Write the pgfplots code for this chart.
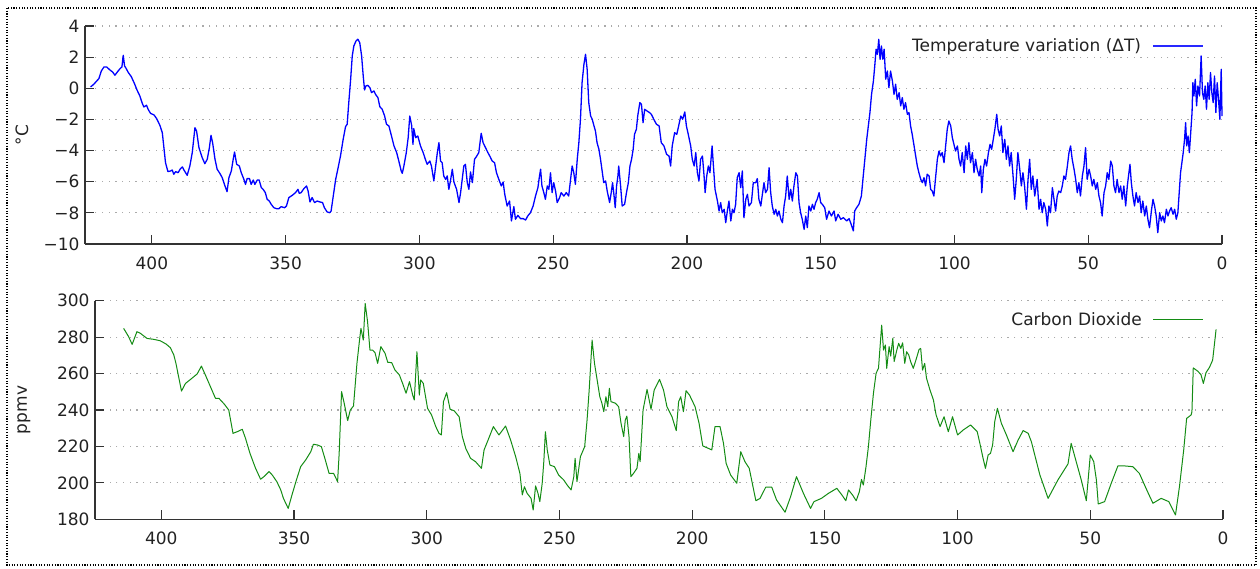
\documentclass[border=0pt]{standalone}
\usepackage{fontspec}
\setmainfont{DejaVu Sans}
\usepackage{pgfplots}
\pgfplotsset{compat=1.18}
\definecolor{txt}{HTML}{222222}
\definecolor{axl}{HTML}{333333}
\definecolor{grd}{HTML}{AAAAAA}
\definecolor{co2}{RGB}{20,140,20}
\definecolor{legblue}{RGB}{40,40,255}
\pgfplotsset{
  vostok/.style={
    scale only axis,
    x dir=reverse, xmin=0, xmax=425,
    axis x line*=bottom, axis y line*=left,
    axis line style={axl, line width=1.6pt},
    tick align=inside,
    major tick length=9pt,
    tick style={axl, line width=1.2pt},
    xtick={0,50,100,150,200,250,300,350,400},
    ymajorgrids,
    major grid style={grd, line width=1.2pt, dash pattern=on 1.2pt off 5.5pt},
    /pgf/number format/assume math mode=true,
    tick label style={font=\fontsize{17}{19}\selectfont, text=txt},
    xticklabel style={yshift=-9pt},
    yticklabel style={xshift=-2pt},
    legend style={draw=none, fill=none, font=\fontsize{17}{19}\selectfont,
      /tikz/every odd column/.style={column sep=9pt}},
    legend cell align=right,
    legend plot pos=right,
    clip=false,
  }
}
\begin{document}
\begin{tikzpicture}
\useasboundingbox (0pt,0pt) rectangle (1260pt,-568pt);
\draw[black, line width=1.1pt, dash pattern=on 1.1pt off 1.6pt] (7pt,-8pt) rectangle (1256pt,-565pt);
% ---------------- temperature ----------------
\begin{axis}[vostok,
  at={(85pt,-244pt)}, anchor=south west,
  width=1137pt, height=218pt,
  ymin=-10, ymax=4,
  ytick={-10,-8,-6,-4,-2,0,2,4},
  yticklabels={−10,−8,−6,−4,−2,0,2,4},
  ylabel={°C},
  every axis y label/.style={at={(rel axis cs:0,0.5)}, xshift=-63pt, rotate=90, anchor=center, font=\fontsize{17}{19}\selectfont, text=txt},
  legend style={at={(rel axis cs:0.9868,0.962)}, anchor=north east},
  legend image code/.code={\draw[#1, legblue, line width=1.7pt] (0pt,0pt) -- (50pt,0pt);},
]
\addplot[blue, line width=1.3pt, line join=round] coordinates {
(422.9,0.09)(421.7,0.26)(420.4,0.51)(419.8,0.62)(418.9,1.11)(417.9,1.37)(416.9,1.37)(415.7,1.18)(414.7,1.05)(413.8,0.84)(412.9,1.05)(411.9,1.26)(411.2,1.37)(410.7,2.12)(410.2,1.43)(409.8,1.33)(408.8,1.01)(407.7,0.75)(406.5,0.30)(405.5,-0.13)(404.5,-0.49)(403.6,-0.96)(403.0,-1.20)(402.0,-1.09)(401.4,-1.35)(400.5,-1.61)(399.2,-1.71)(398.2,-1.95)(397.0,-2.38)(396.1,-2.85)(395.5,-3.81)(394.9,-4.78)(394.0,-5.35)(393.0,-5.31)(392.4,-5.25)(391.8,-5.52)(391.1,-5.35)(390.2,-5.42)(389.3,-5.16)(388.6,-5.05)(388.0,-5.25)(386.8,-5.59)(385.8,-4.99)(384.9,-4.13)(383.9,-2.53)(383.3,-2.74)(382.4,-3.81)(381.2,-4.45)(380.2,-4.84)(379.3,-4.56)(378.5,-3.81)(377.9,-3.02)(377.3,-3.49)(376.4,-4.56)(375.6,-5.20)(374.6,-5.46)(373.7,-5.74)(372.8,-6.21)(371.9,-6.64)(371.2,-5.74)(370.3,-5.31)(369.6,-4.56)(369.1,-4.09)(368.3,-4.88)(367.3,-4.99)(366.6,-5.42)(365.6,-5.85)(365.0,-6.17)(364.4,-5.80)(363.5,-5.80)(362.9,-6.17)(362.1,-5.89)(361.5,-6.17)(360.6,-5.89)(359.9,-5.89)(359.1,-6.38)(358.4,-6.49)(357.6,-6.70)(356.9,-7.13)(356.1,-7.24)(355.4,-7.45)(354.4,-7.67)
(353.4,-7.73)(352.5,-7.73)(351.7,-7.60)(350.4,-7.67)(349.7,-7.56)(348.8,-7.02)(347.5,-6.87)(346.3,-6.70)(345.4,-6.49)(344.9,-6.75)(344.2,-6.70)(343.2,-6.45)(342.2,-6.27)(341.6,-6.60)(340.9,-7.30)(340.1,-7.02)(339.2,-7.34)(338.2,-7.24)(337.2,-7.30)(336.2,-7.34)(335.5,-7.67)(334.5,-7.94)(333.5,-7.99)(333.0,-7.88)(332.2,-6.92)(331.3,-5.85)(330.5,-5.20)(329.5,-4.35)(328.5,-3.28)(327.6,-2.46)(327.0,-2.31)(326.4,-0.92)(325.7,0.58)(325.1,2.08)(324.5,2.72)(323.7,3.04)(323.0,3.15)(322.3,2.93)(321.6,2.08)(321.0,0.79)(320.5,-0.11)(320.0,0.15)(319.3,0.19)(318.5,0.04)(317.9,-0.28)(317.0,-0.17)(316.4,-0.39)(315.5,-0.60)(314.8,-1.18)(313.9,-1.35)(313.0,-1.78)(312.3,-2.31)(311.4,-2.42)(310.5,-3.02)(309.5,-3.70)(308.5,-4.13)(307.7,-4.67)(306.8,-5.31)(306.4,-5.46)(305.8,-4.99)(304.9,-4.13)(304.2,-3.17)(303.6,-1.78)(302.9,-2.38)(302.4,-3.60)(302.1,-2.59)(301.4,-3.17)(300.6,-3.06)(299.6,-3.70)(298.6,-4.13)(297.7,-4.60)(297.1,-4.88)(296.1,-4.67)(295.5,-4.99)(294.6,-5.95)(294.0,-5.10)(293.3,-4.13)(292.7,-3.49)(292.1,-4.67)(291.5,-4.78)(290.9,-5.63)(290.2,-5.85)(289.6,-5.63)(289.0,-6.49)(288.4,-5.95)(287.7,-5.20)(287.1,-6.02)(286.1,-6.49)(285.2,-7.34)(284.6,-6.70)(284.0,-5.85)(283.4,-4.99)(282.8,-4.88)(282.1,-6.06)
(281.5,-6.49)(280.9,-5.37)(280.2,-6.06)(279.4,-4.56)(278.7,-4.39)(277.8,-4.13)(276.9,-2.89)(276.2,-3.49)(275.3,-3.81)(274.4,-4.13)(273.7,-4.35)(272.8,-4.67)(271.9,-4.78)(271.2,-5.42)(270.3,-5.85)(269.4,-6.27)(268.7,-6.02)(268.1,-6.81)(267.2,-7.56)(266.3,-7.24)(265.6,-8.52)(264.7,-7.60)(264.1,-8.41)(263.2,-8.16)(262.2,-8.37)(261.2,-8.37)(260.3,-8.46)(259.5,-8.20)(258.5,-7.99)(257.5,-7.56)(256.6,-6.92)(255.7,-6.38)(255.2,-5.74)(254.7,-5.20)(254.2,-6.27)(253.5,-6.70)(252.9,-7.13)(252.2,-6.27)(251.6,-6.49)(251.0,-5.42)(250.4,-6.70)(249.8,-6.06)(249.1,-6.60)(248.5,-7.34)(247.6,-7.02)(247.0,-6.70)(246.0,-6.92)(245.1,-6.70)(244.2,-6.92)(243.5,-5.85)(242.9,-4.99)(242.3,-5.42)(241.7,-6.17)(241.0,-4.56)(240.4,-3.49)(239.8,-1.99)(239.2,0.36)(238.5,1.54)(237.9,2.18)(237.3,1.22)(236.7,-0.92)(236.0,-1.78)(235.4,-1.99)(234.8,-2.38)(234.2,-2.74)(233.6,-3.49)(232.9,-3.92)(232.3,-4.56)(231.7,-5.31)(231.1,-6.06)(230.4,-5.95)(229.8,-6.60)(228.9,-7.34)(228.3,-6.70)(227.8,-6.06)(227.3,-6.81)(226.8,-7.67)(226.3,-6.27)(225.8,-5.63)(225.5,-4.99)(224.8,-6.27)(224.2,-7.56)(223.3,-7.45)(222.6,-6.70)(221.9,-6.06)(221.3,-4.99)(220.7,-4.56)(220.1,-3.92)(219.6,-2.96)(218.9,-2.63)(218.4,-1.78)(217.6,-0.92)(217.0,-1.03)(216.4,-2.21)(215.8,-1.35)(214.9,-1.46)(214.0,-1.56)(213.3,-1.67)(212.4,-1.99)(211.4,-2.31)
(210.4,-2.42)(209.6,-3.49)(208.6,-3.70)(207.6,-4.24)(206.7,-4.35)(206.1,-4.99)(205.5,-3.70)(204.6,-2.85)(203.8,-2.96)(203.1,-2.42)(202.3,-1.78)(201.6,-1.99)(200.8,-1.52)(200.2,-2.42)(199.5,-2.96)(198.6,-3.70)(198.0,-4.56)(197.3,-4.99)(196.7,-4.13)(196.1,-5.42)(195.5,-5.95)(194.9,-4.56)(194.2,-4.35)(193.6,-5.63)(193.2,-6.70)(192.6,-5.63)(192.0,-4.99)(191.4,-5.42)(190.6,-3.70)(190.1,-4.99)(189.5,-6.49)(188.6,-7.24)(188.0,-7.88)(187.4,-7.34)(186.8,-7.99)(186.1,-7.77)(185.5,-8.63)(184.9,-7.88)(184.3,-7.24)(183.6,-8.52)(183.0,-7.77)(182.4,-7.99)(181.8,-7.45)(181.2,-5.74)(180.5,-5.42)(179.9,-6.38)(179.3,-5.31)(178.7,-8.31)(178.0,-7.13)(177.4,-6.81)(176.8,-7.56)(175.9,-7.34)(175.2,-6.06)(174.3,-6.06)(173.7,-5.80)(173.1,-7.13)(172.4,-7.56)(171.8,-6.81)(171.2,-6.06)(170.6,-6.70)(169.9,-6.49)(169.3,-5.10)(168.7,-6.70)(168.1,-7.56)(167.4,-8.09)(166.8,-7.77)(166.2,-8.20)(165.6,-7.88)(164.9,-8.41)(164.3,-8.63)(163.7,-7.56)(163.1,-6.92)(162.5,-5.63)(161.8,-7.13)(161.2,-6.49)(160.6,-7.24)(160.0,-6.27)(159.3,-5.42)(158.7,-5.63)(158.1,-7.34)(157.5,-7.99)(156.9,-8.41)(156.2,-9.06)(155.6,-8.20)(155.0,-8.95)(154.4,-7.56)(153.7,-7.88)(153.1,-7.45)(152.5,-7.77)(151.9,-7.34)(151.3,-7.13)(150.6,-6.70)(150.0,-7.34)(149.4,-7.45)(148.5,-7.67)(147.8,-8.41)(146.9,-7.88)(146.0,-8.20)(145.0,-7.88)(144.4,-8.52)(143.5,-8.09)(142.5,-8.41)(141.5,-8.31)
(140.3,-8.52)(139.4,-8.37)(138.6,-8.74)(137.8,-9.16)(137.3,-7.88)(136.6,-7.67)(135.7,-7.45)(134.8,-6.92)(134.1,-5.63)(133.5,-4.56)(132.8,-3.28)(132.2,-2.42)(131.6,-1.56)(131.0,-0.39)(130.3,0.47)(129.8,1.43)(129.3,2.51)(128.8,2.18)(128.3,3.15)(127.8,1.86)(127.3,2.72)(126.8,1.86)(126.3,2.51)(125.7,0.58)(125.1,1.11)(124.5,0.04)(123.9,1.11)(123.2,0.47)(122.6,-0.39)(122.0,0.26)(121.4,-0.71)(120.7,-0.28)(120.1,-1.13)(119.5,-0.60)(118.9,-1.35)(118.3,-0.92)(117.6,-1.67)(117.0,-1.56)(116.4,-2.42)(115.8,-2.96)(115.1,-3.70)(114.5,-4.35)(113.9,-4.99)(113.3,-5.42)(112.6,-5.85)(112.0,-6.06)(111.4,-5.74)(110.8,-6.27)(110.2,-5.52)(109.5,-5.63)(108.9,-6.49)(108.3,-6.60)(107.7,-6.92)(107.0,-5.63)(106.4,-4.56)(105.8,-4.03)(105.2,-4.35)(104.6,-4.13)(103.9,-4.78)(103.3,-3.70)(102.7,-2.63)(102.1,-2.10)(101.4,-2.42)(100.8,-3.17)(100.2,-3.60)(99.6,-4.03)(98.9,-3.70)(98.3,-4.56)(97.7,-4.99)(97.1,-4.13)(96.4,-5.42)(95.8,-3.70)(95.2,-4.56)(94.6,-3.49)(94.0,-4.78)(93.3,-4.13)(92.7,-5.42)(92.1,-4.56)(91.5,-5.20)(90.8,-5.63)(90.2,-4.99)(89.8,-6.70)(89.2,-5.20)(88.6,-4.56)(88.0,-4.99)(87.3,-4.13)(86.7,-3.60)(86.1,-3.92)(85.5,-3.28)(84.9,-2.63)(84.2,-1.67)(83.7,-2.63)(83.1,-3.06)(82.5,-2.42)(81.9,-4.13)(81.2,-3.28)(80.6,-4.56)(80.0,-3.70)(79.4,-4.99)(78.8,-4.13)(78.1,-5.63)(77.5,-7.13)(76.9,-5.85)(76.3,-4.13)(75.6,-5.20)(75.0,-6.27)(74.4,-5.42)(73.8,-6.27)(73.1,-7.77)(72.5,-5.85)(71.9,-4.56)(71.3,-6.49)(70.7,-5.63)(70.0,-6.92)
(69.1,-5.85)(68.4,-7.77)(67.8,-7.13)(67.2,-7.99)(66.6,-7.34)(65.9,-7.77)(65.3,-8.84)(64.7,-7.56)(64.1,-7.99)(63.4,-6.38)(62.8,-7.13)(62.2,-7.88)(61.6,-6.92)(61.0,-6.60)(60.3,-6.70)(59.7,-6.27)(59.1,-5.63)(58.5,-5.85)(57.8,-4.99)(57.2,-4.13)(56.6,-3.70)(56.0,-4.56)(55.3,-5.20)(54.7,-5.85)(54.1,-6.70)(53.5,-6.06)(52.9,-6.92)(52.2,-5.63)(51.6,-4.99)(51.0,-3.81)(50.4,-5.85)(49.7,-5.20)(49.1,-5.63)(48.5,-6.27)(47.9,-5.85)(47.2,-6.49)(46.6,-6.06)(46.0,-6.92)(45.4,-7.34)(44.8,-8.20)(44.1,-6.70)(43.5,-6.27)(42.9,-5.42)(42.3,-5.85)(41.6,-4.67)(41.0,-4.99)(40.4,-6.27)(39.8,-6.70)(39.2,-5.85)(38.5,-6.70)(37.9,-6.27)(37.3,-7.13)(36.7,-6.27)(36.0,-7.56)(35.4,-6.27)(34.8,-5.42)(34.4,-4.88)(33.9,-6.06)(33.3,-6.92)(32.7,-7.56)(32.1,-6.70)(31.4,-7.34)(30.8,-6.92)(30.2,-7.99)(29.6,-7.24)(28.9,-8.20)(28.3,-7.56)(27.7,-8.41)(27.1,-8.95)(26.4,-7.88)(25.8,-7.13)(25.2,-7.56)(24.6,-8.20)(24.0,-9.27)(23.3,-7.99)(22.7,-8.52)(22.1,-8.20)(21.5,-8.63)(20.8,-7.77)(20.2,-8.20)(19.6,-7.88)(19.0,-7.67)(18.3,-8.09)(17.7,-7.77)(17.1,-8.41)(16.5,-7.99)(16.0,-6.70)(15.5,-5.42)(15.0,-4.78)(14.5,-4.13)(14.0,-3.28)(13.6,-2.21)(13.2,-3.70)(12.7,-3.06)(12.2,-4.13)(11.7,-2.85)(11.2,-1.56)(10.9,0.36)(10.5,-0.49)(10.0,0.58)(9.5,-1.13)(9.0,0.15)(8.4,-0.49)(7.8,2.08)(7.3,-0.28)(6.8,-0.71)(6.3,0.15)(5.8,-1.35)(5.3,0.36)(4.8,-0.71)(4.3,1.01)(3.8,-0.28)(3.3,-0.92)(2.8,0.79)(2.3,-1.56)(1.8,0.36)(1.3,-0.71)(0.8,-1.99)(0.3,1.22)(0.0,-1.78)
};
\addlegendentry{\textcolor{txt}{Temperature variation (ΔT)}}
\end{axis}
% ---------------- CO2 ----------------
\begin{axis}[vostok,
  at={(95pt,-519.3pt)}, anchor=south west,
  width=1128pt, height=218.6pt,
  ymin=180, ymax=300,
  ytick={180,200,220,240,260,280,300},
  ylabel={ppmv},
  every axis y label/.style={at={(rel axis cs:0,0.5)}, xshift=-71pt, rotate=90, anchor=center, font=\fontsize{17}{19}\selectfont, text=txt},
  legend style={at={(rel axis cs:0.9858,0.965)}, anchor=north east},
  legend image code/.code={\draw[#1, co2, line width=1pt] (0pt,0pt) -- (50pt,0pt);},
]
\addplot[co2, line width=1pt, line join=round] coordinates {
(414.2,284.8)(412.3,280.2)(411.0,276.0)(409.2,283.0)(407.9,282.1)(405.4,279.3)(402.9,278.8)(400.4,278.0)(398.2,276.2)(396.6,274.2)(395.3,270.2)(394.5,265.6)(393.5,258.3)(392.4,250.4)(390.9,254.6)(389.0,256.8)(386.5,259.8)(384.9,264.1)(383.4,259.2)(381.5,252.8)(379.6,246.4)(378.3,246.4)(376.2,243.1)(374.6,240.0)(373.0,227.2)(371.4,228.1)(369.5,229.4)(368.3,224.5)(366.6,216.2)(364.5,208.0)(362.6,202.0)(361.3,203.5)(359.4,206.2)(358.2,204.3)(356.5,200.7)(355.0,196.1)(354.0,191.5)(352.2,186.0)(350.6,194.3)(349.0,202.1)(347.5,208.9)(345.6,212.6)(343.7,217.1)(342.7,221.2)(341.2,220.8)(339.7,219.9)(338.4,213.5)(336.8,205.2)(335.1,205.2)(333.6,200.7)(333.0,216.2)(332.1,250.1)(331.1,243.7)(329.8,234.2)(328.8,240.0)(327.6,242.2)(326.3,265.6)(325.4,277.5)(324.8,284.8)(323.9,278.4)(323.2,298.5)(322.3,288.5)(321.4,272.9)(320.4,272.9)(319.5,271.5)(318.5,265.6)(317.3,274.8)(315.7,271.1)(314.7,266.2)(313.2,266.0)(312.0,262.0)(310.3,259.2)(309.1,254.6)(307.8,249.2)(306.5,255.6)(305.3,248.2)(304.7,245.5)(303.7,272.0)(302.8,248.2)
(302.3,256.5)(301.3,254.6)(299.7,240.9)(298.2,237.3)(296.6,230.9)(295.4,227.2)(294.5,226.3)(293.7,244.6)(292.5,249.5)(291.2,240.4)(289.7,239.6)(287.8,236.3)(286.6,225.4)(285.3,218.9)(283.5,213.5)(281.6,211.6)(279.4,208.0)(278.4,218.1)(276.9,223.5)(274.9,230.9)(272.8,226.3)(270.3,231.2)(268.4,223.5)(266.5,214.4)(264.9,205.2)(264.0,193.4)(263.2,197.9)(262.2,194.3)(260.7,191.5)(259.9,185.1)(259.0,198.3)(258.1,194.3)(257.4,189.7)(256.5,199.8)(255.9,211.6)(255.3,228.1)(254.6,218.1)(253.6,209.8)(251.9,208.9)(250.3,204.3)(248.4,201.6)(247.1,198.8)(245.6,196.1)(244.6,203.4)(244.1,213.5)(243.4,200.7)(242.1,214.4)(240.5,219.9)(239.6,234.5)(238.8,251.0)(237.7,278.4)(236.8,265.6)(235.8,256.5)(234.8,247.3)(234.0,243.7)(233.3,239.1)(232.5,247.3)(231.8,241.8)(231.2,251.9)(230.6,244.6)(228.9,243.7)(227.7,241.8)(226.8,232.7)(225.8,225.4)(225.2,234.5)(224.6,236.7)(223.8,225.4)(223.1,203.4)(222.1,205.2)(220.8,208.0)(220.1,216.2)(219.6,211.6)(218.5,240.0)(217.0,251.3)(215.5,240.4)(214.3,251.0)(212.3,256.8)(210.8,251.0)(209.5,241.8)(207.6,236.3)(206.0,228.7)(205.1,244.6)(204.3,247.3)(203.3,239.1)(202.3,250.6)(201.0,248.2)(198.9,241.8)(197.4,232.7)(196.0,220.3)(192.6,218.1)(191.4,230.9)(189.5,230.9)(188.2,221.7)(187.2,210.7)(185.5,204.3)(183.2,199.8)(181.7,217.1)(180.1,211.6)(178.5,208.0)(176.0,190.2)(174.4,191.5)(172.3,197.6)(170.0,197.6)(168.2,190.6)(165.0,183.9)(162.9,192.5)(160.7,203.4)(158.1,194.3)(155.4,186.0)(154.1,189.7)(151.3,191.5)
(148.6,194.3)(145.5,197.0)(143.6,193.4)(142.1,190.2)(141.1,196.1)(139.6,193.4)(138.2,190.2)(137.0,195.2)(136.2,201.9)(135.5,198.8)(134.5,208.9)(133.6,219.9)(132.7,234.5)(131.7,249.2)(130.7,260.2)(129.8,262.9)(129.2,274.8)(128.6,286.6)(127.9,272.9)(127.2,275.7)(126.7,262.9)(125.8,274.8)(125.2,269.6)(124.4,279.4)(123.9,266.6)(122.9,272.9)(122.2,276.6)(121.4,273.8)(120.7,276.9)(119.9,265.6)(119.2,272.0)(118.4,270.2)(117.7,266.6)(116.7,262.9)(115.7,267.4)(114.5,273.3)(113.9,273.8)(113.2,261.9)(112.4,265.6)(111.7,257.4)(110.4,251.0)(109.1,245.5)(108.1,237.3)(106.6,230.9)(105.1,236.3)(103.5,228.1)(101.9,236.3)(100.0,226.3)(97.9,229.0)(95.1,231.8)(92.6,228.1)(91.6,221.7)(90.4,213.5)(89.5,208.0)(88.5,215.3)(87.6,216.2)(86.8,220.8)(86.0,233.6)(85.0,240.9)(83.5,232.7)(81.6,226.3)(79.1,217.1)(77.2,223.5)(75.3,228.7)(73.4,227.2)(72.2,222.6)(69.0,204.4)(65.9,191.5)(62.2,201.6)(58.4,210.4)(57.2,221.7)(55.3,211.6)(53.4,201.6)(51.5,190.2)(50.0,215.3)(48.7,211.6)(47.7,201.6)(47.0,188.4)(44.6,189.7)(42.1,199.8)(39.6,209.3)(37.1,209.3)(34.0,208.9)(31.5,205.2)(29.0,197.0)(26.4,188.8)(23.3,191.5)(20.4,189.7)(17.9,182.4)(16.4,198.0)(14.8,218.1)(13.7,235.4)(12.0,237.3)(11.7,239.1)(11.2,263.1)(9.5,261.3)(8.3,259.4)(7.4,254.6)(6.4,260.5)(5.1,263.4)(3.9,267.4)(2.6,284.3)
};
\addlegendentry{\textcolor{txt}{Carbon Dioxide}}
\end{axis}
\end{tikzpicture}
\end{document}
